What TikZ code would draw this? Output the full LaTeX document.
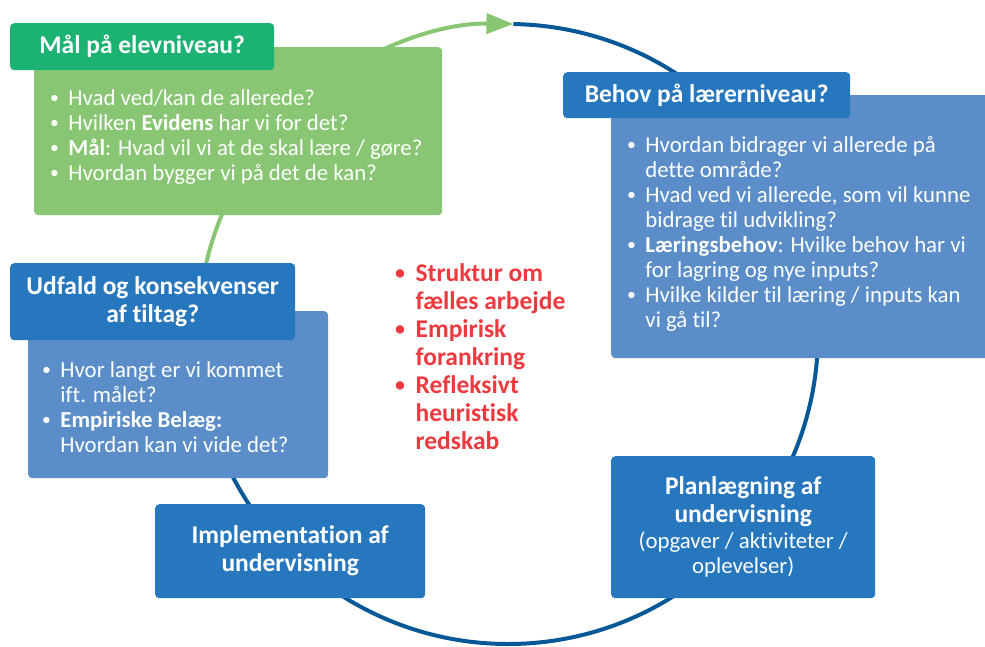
\documentclass[tikz,border=0pt]{standalone}
\usepackage{fontspec}
\usepackage{graphicx}
\setmainfont{Carlito}[Ligatures=NoCommon]
\usetikzlibrary{arrows.meta,positioning}

\definecolor{moerkgroen}{HTML}{1BB274}
\definecolor{lysgroen}{HTML}{88C673}
\definecolor{moerkblaa}{HTML}{2777BF}
\definecolor{lysblaa}{HTML}{5B8EC8}
\definecolor{cirkelblaa}{HTML}{075897}
\definecolor{roed}{HTML}{EE3A3F}

\newcommand{\brodtekst}{\fontsize{22.8}{25}\selectfont}
\newcommand{\titeltekst}{\fontsize{25.5}{28}\selectfont\bfseries}
\newcommand{\punkt}{\makebox[0.8em][l]{\raisebox{0.06em}{\scalebox{0.78}{\textbullet}}}}
\newcommand{\indryk}{\hspace*{0.8em}}

\begin{document}
\begin{tikzpicture}[
        x=1pt, y=1pt,
        % Stil for overskriftsboksene
        titel boks/.style = {
            rectangle,
            rounded corners=4pt,
            fill=moerkblaa,
            text=white,
            align=center,
            font=\titeltekst,
            inner sep=0pt,
            anchor=north west
        },
        % Stil for de lyse bokse bag punkterne
        krop boks/.style = {
            rectangle,
            rounded corners=4pt,
            inner sep=0pt,
            anchor=north west
        },
        % Stil for punktlisterne
        punkt tekst/.style = {
            align=left,
            text=white,
            font=\brodtekst,
            inner sep=0pt,
            anchor=north west
        },
        % Stil for cirklen
        cirkel/.style = {
            line width=4pt
        }
    ]
    \useasboundingbox (0,0) rectangle (985,-647);

    % Cirklen bag boksene
    \coordinate (midt) at (508,-334);
    \draw[cirkel, cirkelblaa] (midt) ++(89:310) arc[start angle=89, end angle=-170, radius=310];
    \draw[cirkel, lysgroen, -{Triangle[length=27pt,width=20pt]}]
        (midt) ++(190:310) arc[start angle=190, end angle=89, radius=310];

    % Mål på elevniveau
    \node[krop boks, fill=lysgroen, minimum width=408pt, minimum height=168pt] (malkrop) at (34,-47) {};
    \node[titel boks, fill=moerkgroen, minimum width=264pt, minimum height=47pt] (maltitel) at (10,-23) {Mål på elevniveau?};
    \node[punkt tekst] (maltekst) at (50,-89) {%
        \punkt Hvad ved/kan de allerede?\\
        \punkt Hvilken \textbf{Evidens} har vi for det?\\
        \punkt \textbf{Mål}: Hvad vil vi at de skal lære / gøre?\\
        \punkt Hvordan bygger vi på det de kan?};

    % Behov på lærerniveau
    \node[krop boks, fill=lysblaa, minimum width=380pt, minimum height=263pt] (behovkrop) at (611,-95) {};
    \node[titel boks, minimum width=287pt, minimum height=46pt] (behovtitel) at (563,-72) {Behov på lærerniveau?};
    \node[punkt tekst] (behovtekst) at (627,-136) {%
        \punkt Hvordan bidrager vi allerede på\\
        \indryk dette område?\\
        \punkt Hvad ved vi allerede, som vil kunne\\
        \indryk bidrage til udvikling?\\
        \punkt \textbf{Læringsbehov}: Hvilke behov har vi\\
        \indryk for lagring og nye inputs?\\
        \punkt Hvilke kilder til læring / inputs kan\\
        \indryk vi gå til?};

    % Udfald og konsekvenser
    \node[krop boks, fill=lysblaa, minimum width=300pt, minimum height=167pt] (udfaldkrop) at (28,-311) {};
    \node[titel boks, minimum width=285pt, minimum height=77pt] (udfaldtitel) at (10,-263) {Udfald og konsekvenser\\af tiltag?};
    \node[punkt tekst] (udfaldtekst) at (42,-361) {%
        \punkt Hvor langt er vi kommet\\
        \indryk ift. målet?\\
        \punkt \textbf{Empiriske Belæg:}\\
        \indryk Hvordan kan vi vide det?};

    % Implementation og planlægning
    \node[titel boks, minimum width=270pt, minimum height=94pt] (implementation) at (155,-504) {Implementation af\\undervisning};
    \node[titel boks, font=\brodtekst, minimum width=264pt, minimum height=142pt] (planlaegning) at (611,-456) {%
        {\titeltekst Planlægning af}\\[3pt]
        {\titeltekst undervisning}\\[1pt]
        (opgaver / aktiviteter /\\
        oplevelser)};

    % Røde punkter i midten
    \node[punkt tekst, font=\titeltekst, text=roed] (midtpunkter) at (395,-263) {%
        \punkt Struktur om\\
        \indryk fælles arbejde\\
        \punkt Empirisk\\
        \indryk forankring\\
        \punkt Refleksivt\\
        \indryk heuristisk\\
        \indryk redskab};
\end{tikzpicture}
\end{document}
